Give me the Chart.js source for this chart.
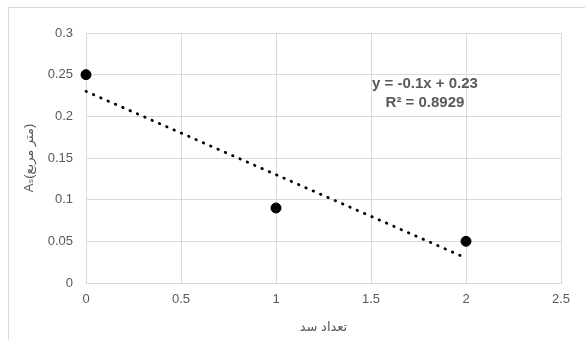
<!DOCTYPE html>
<html>
<head>
<meta charset="utf-8">
<script src="https://cdn.jsdelivr.net/npm/chart.js@4"></script>
<style>
  html, body { margin: 0; padding: 0; background: #fff; overflow: hidden; }
  #wrap { position: relative; width: 585px; height: 340px; }
  #frame {
    position: absolute; left: 8px; top: 7px; width: 577px; height: 333px;
    border-top: 1px solid #d9d9d9; border-left: 1px solid #d9d9d9;
    box-sizing: border-box; pointer-events: none;
  }
  canvas { position: absolute; left: 0; top: 0; }
</style>
</head>
<body>
<div id="wrap">
  <canvas id="chart" width="585" height="340"></canvas>
  <div id="frame"></div>
</div>
<script>
// dam count vs. area
const damCounts = [0, 1, 2];
const areas = [0.25, 0.09, 0.05];

const xTicks = [0, 0.5, 1, 1.5, 2, 2.5];
const yTicks = [0, 0.05, 0.1, 0.15, 0.2, 0.25, 0.3];

const xTitle = 'تعداد سد';
const yTitle = 'Aₛ(متر مربع)';

// least squares fit for the linear trendline
const n = damCounts.length;
const mx = damCounts.reduce((a, b) => a + b, 0) / n;
const my = areas.reduce((a, b) => a + b, 0) / n;
let sxy = 0, sxx = 0, syy = 0;
for (let i = 0; i < n; i++) {
  sxy += (damCounts[i] - mx) * (areas[i] - my);
  sxx += (damCounts[i] - mx) ** 2;
  syy += (areas[i] - my) ** 2;
}
const slope = sxy / sxx;
const intercept = my - slope * mx;
const r2 = (sxy * sxy) / (sxx * syy);

const xMin = Math.min(...damCounts), xMax = Math.max(...damCounts);
const trend = [
  { x: xMin, y: intercept + slope * xMin },
  { x: xMax, y: intercept + slope * xMax }
];

const gray = '#595959';
const gridGray = '#d9d9d9';
const tickFont = { family: 'Liberation Sans, DejaVu Sans, sans-serif', size: 13 };
const titleFont = { family: 'Liberation Sans, DejaVu Sans, sans-serif', size: 13 };

const eqLabel = {
  id: 'eqLabel',
  afterDatasetsDraw(chart) {
    const { ctx } = chart;
    const fmt = v => String(Number(v.toFixed(4)));
    const sign = intercept < 0 ? '-' : '+';
    const line1 = `y = ${fmt(slope)}x ${sign} ${fmt(Math.abs(intercept))}`;
    const line2 = `R² = ${r2.toFixed(4)}`;
    ctx.save();
    ctx.fillStyle = gray;
    ctx.font = 'bold 15px "Liberation Sans", sans-serif';
    ctx.textAlign = 'center';
    ctx.textBaseline = 'middle';
    ctx.fillText(line1, 425, 84);
    ctx.fillText(line2, 425, 103);
    ctx.restore();
  }
};

new Chart(document.getElementById('chart'), {
  data: {
    datasets: [
      {
        type: 'scatter',
        data: damCounts.map((x, i) => ({ x, y: areas[i] })),
        pointRadius: 5,
        pointBackgroundColor: '#000',
        pointBorderColor: '#000',
        pointBorderWidth: 1,
        clip: false,
        order: 0
      },
      {
        type: 'line',
        data: trend,
        borderColor: '#000',
        borderWidth: 2.8,
        borderDash: [0.5, 7.5],
        borderCapStyle: 'round',
        pointRadius: 0,
        fill: false,
        tension: 0,
        clip: false,
        order: 1
      }
    ]
  },
  options: {
    responsive: false,
    animation: false,
    layout: { padding: { top: 33, right: 24, left: 0, bottom: 0 } },
    plugins: {
      legend: { display: false },
      tooltip: { enabled: false }
    },
    scales: {
      x: {
        type: 'linear',
        min: 0,
        max: 2.5,
        afterBuildTicks: s => { s.ticks = xTicks.map(v => ({ value: v })); },
        afterFit: s => { s.height = 57; },
        grid: { color: gridGray, drawTicks: false },
        border: { color: gridGray },
        ticks: { color: gray, font: tickFont, padding: 9, callback: v => String(v) },
        title: { display: true, text: xTitle, color: gray, font: titleFont, padding: { top: 0, bottom: 5 } }
      },
      y: {
        type: 'linear',
        min: 0,
        max: 0.3,
        afterBuildTicks: s => { s.ticks = yTicks.map(v => ({ value: v })); },
        afterFit: s => { s.width = 86; },
        grid: { color: gridGray, drawTicks: false },
        border: { color: gridGray },
        ticks: { color: gray, font: tickFont, padding: 13, callback: v => String(v) },
        title: { display: true, text: yTitle, color: gray, font: titleFont, padding: { top: 22, bottom: 0 } }
      }
    }
  },
  plugins: [eqLabel]
});
</script>
</body>
</html>
